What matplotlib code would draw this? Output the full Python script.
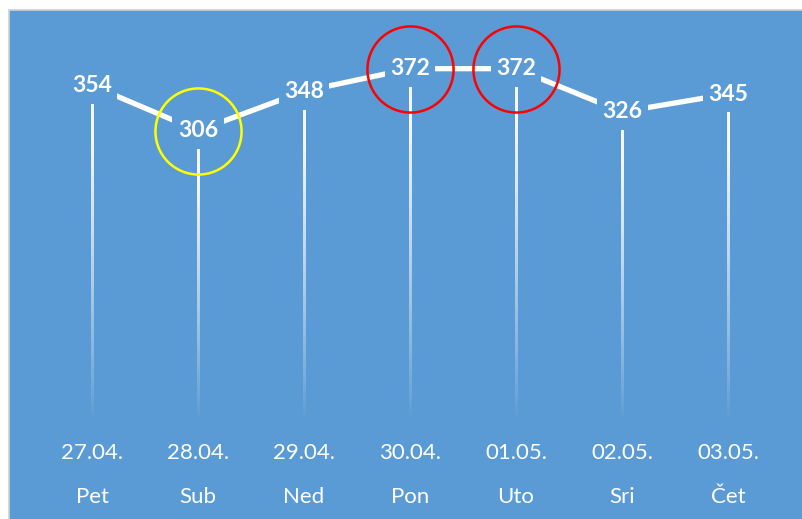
import numpy as np
import matplotlib
matplotlib.use("Agg")
import matplotlib.pyplot as plt
from matplotlib.patches import Rectangle
import matplotlib.transforms as mtransforms

dates = ["27.04.", "28.04.", "29.04.", "30.04.", "01.05.", "02.05.", "03.05."]
days = ["Pet", "Sub", "Ned", "Pon", "Uto", "Sri", "Čet"]
values = [354, 306, 348, 372, 372, 326, 345]
yellow_idx = [1]
red_idx = [3, 4]

BLUE = "#5B9BD5"
plt.rcParams["font.family"] = ["Lato", "DejaVu Sans"]

W, H, DPI = 802, 519, 100
fig = plt.figure(figsize=(W / DPI, H / DPI), dpi=DPI)
fig.patch.set_facecolor("white")

# blue chart area with thin grey frame
fig.patches.append(Rectangle((9 / W, -0.01), 1.0, (H - 10) / H + 0.01,
                             transform=fig.transFigure, facecolor=BLUE,
                             edgecolor="#D0D0D0", linewidth=1.2, zorder=-5))

ax = fig.add_axes([39 / W, 101 / H, 742 / W, 375.6 / H])
ax.set_zorder(2)
ax.set_facecolor("none")
ax.set_xlim(-0.5, len(values) - 0.5)
ax.set_ylim(0, 400)
ax.axis("off")

x = np.arange(len(values))

# fading drop lines (white -> transparent towards the bottom)
half_w = 1.2 / 106
for xi, v in zip(x, values):
    top = v - 20
    alpha = np.clip(np.linspace(0.95, 0, 200) ** 0.9 * 1.1, 0, 0.95)
    img = np.ones((200, 1, 4))
    img[:, 0, 3] = alpha
    ax.imshow(img, extent=[xi - half_w, xi + half_w, -3, top], aspect="auto",
              interpolation="bilinear", zorder=2)
ax.set_xlim(-0.5, len(values) - 0.5)
ax.set_ylim(0, 400)

# main line
ax.plot(x, values, color="white", linewidth=3.8, solid_capstyle="butt", zorder=3)

# value labels with blue box to hide the line behind them
for xi, v in zip(x, values):
    ax.text(xi, v, str(v), ha="center", va="center", color="white",
            fontsize=16.5, fontweight="bold", zorder=4,
            bbox=dict(facecolor=BLUE, edgecolor="none", pad=4))

# highlight circles
ax.plot(x[yellow_idx], np.array(values)[yellow_idx], "o", ms=62, mfc="none",
        mec="#FFFF00", mew=1.8, zorder=5, clip_on=False)
ax.plot(x[red_idx], np.array(values)[red_idx], "o", ms=62, mfc="none",
        mec="#FF0000", mew=1.8, zorder=5, clip_on=False)

# category labels (two rows)
trans = mtransforms.blended_transform_factory(ax.transData, fig.transFigure)
for xi, d, dy in zip(x, dates, days):
    ax.text(xi, 1 - 453 / H, d, transform=trans, ha="center", va="center",
            color="white", fontsize=16)
    ax.text(xi, 1 - 497 / H, dy, transform=trans, ha="center", va="center",
            color="white", fontsize=16)

fig.savefig("out.png", dpi=DPI)
